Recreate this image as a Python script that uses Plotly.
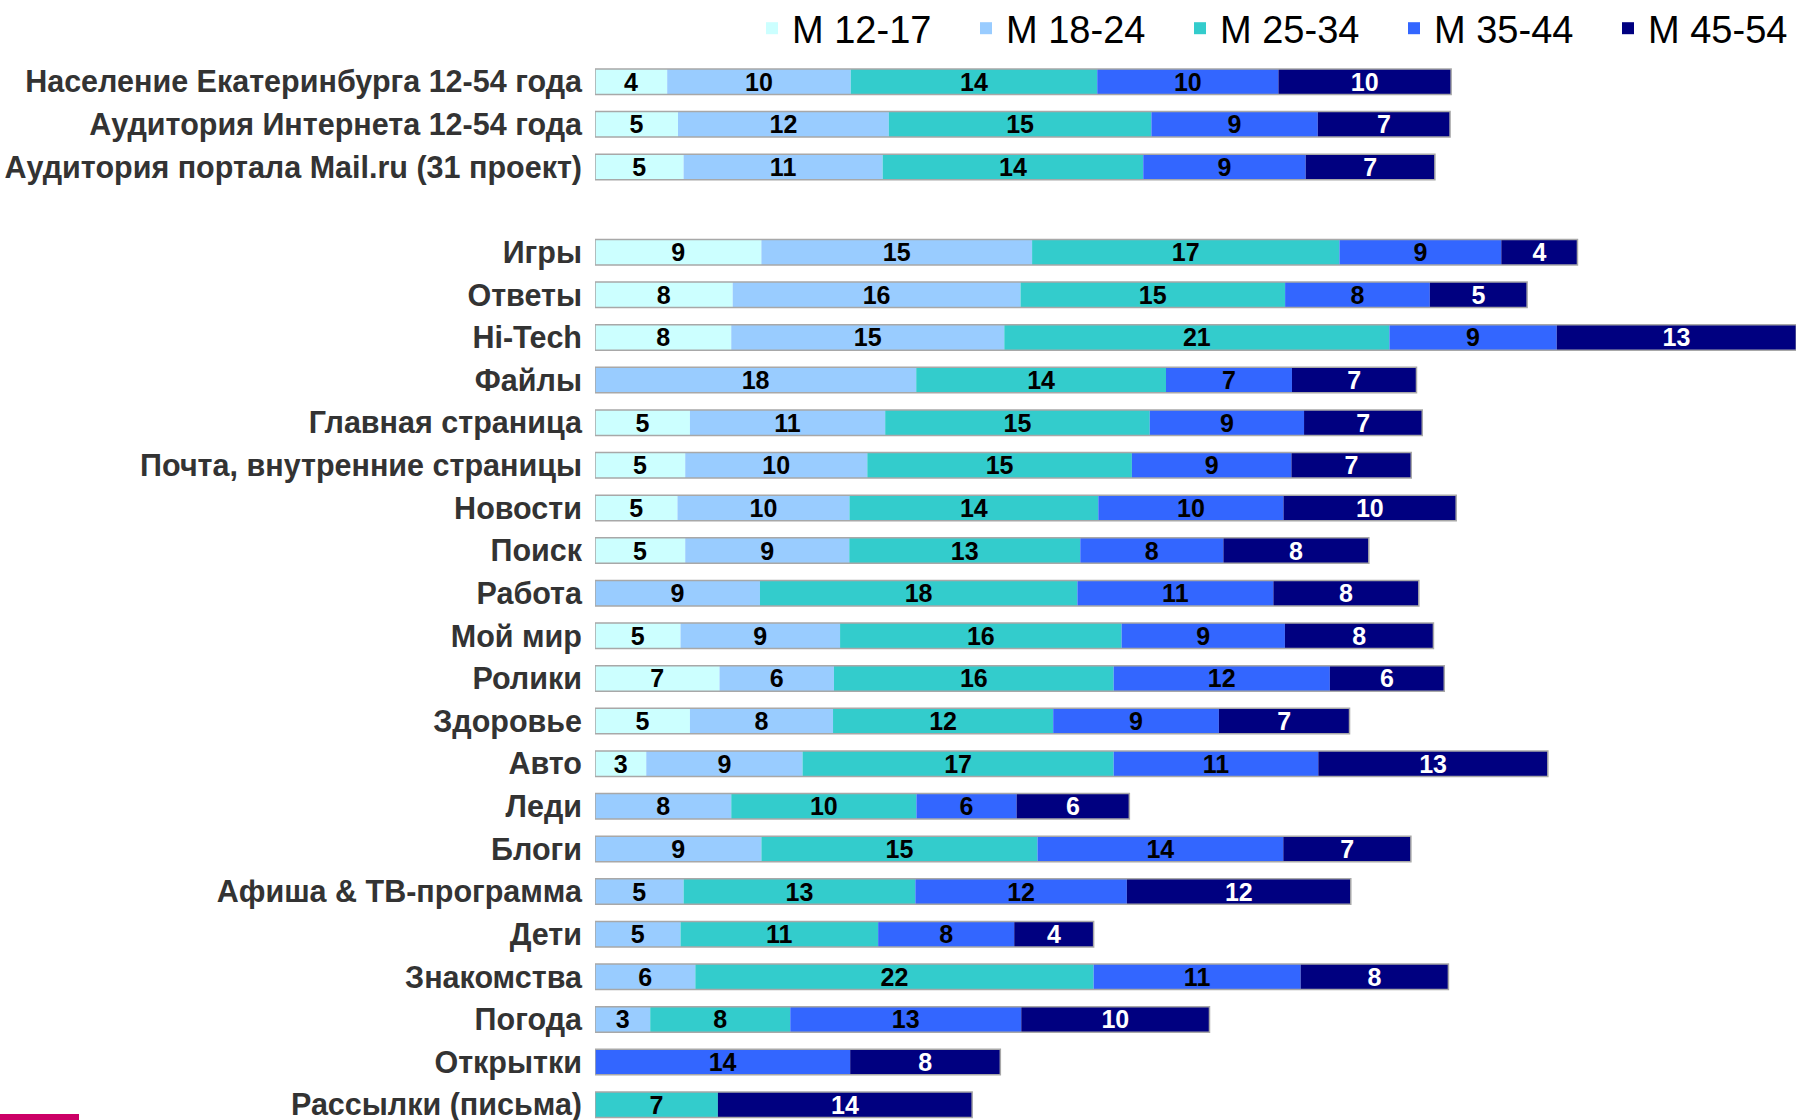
import numpy as np
import plotly.graph_objects as go

categories = [
    "Население Екатеринбурга 12-54 года",
    "Аудитория Интернета 12-54 года",
    "Аудитория портала Mail.ru (31 проект)",
    "Игры",
    "Ответы",
    "Hi-Tech",
    "Файлы",
    "Главная страница",
    "Почта, внутренние страницы",
    "Новости",
    "Поиск",
    "Работа",
    "Мой мир",
    "Ролики",
    "Здоровье",
    "Авто",
    "Леди",
    "Блоги",
    "Афиша & ТВ-программа",
    "Дети",
    "Знакомства",
    "Погода",
    "Открытки",
    "Рассылки (письма)",
]

series_names = ["М 12-17", "М 18-24", "М 25-34", "М 35-44", "М 45-54"]

m_12_17 = [4.0, 4.6, 4.91, 9.22, 7.63, 7.55, None, 5.26, 5.0, 4.57, 5.0, None,
           4.74, 6.9, 5.26, 2.84, None, None, None, None, None, None, None, None]
m_18_24 = [10.17, 11.68, 11.03, 15.0, 15.95, 15.13, 17.8, 10.82, 10.09, 9.53, 9.09, 9.14,
           8.84, 6.34, 7.93, 8.66, 7.55, 9.22, 4.91, 4.74, 5.56, 3.06, None, None]
m_25_34 = [13.66, 14.55, 14.44, 17.03, 14.66, 21.34, 13.84, 14.66, 14.66, 13.79, 12.8, 17.59,
           15.6, 15.5, 12.2, 17.24, 10.26, 15.3, 12.84, 10.95, 22.07, 7.76, None, 6.81]
m_35_44 = [10.04, 9.22, 9.0, 8.97, 8.02, 9.27, 6.98, 8.55, 8.84, 10.26, 7.93, 10.86,
           9.05, 11.98, 9.18, 11.34, 5.55, 13.62, 11.72, 7.54, 11.47, 12.8, 14.14, None]
m_45_54 = [9.57, 7.33, 7.16, 4.22, 5.39, 13.28, 6.9, 6.55, 6.64, 9.57, 8.06, 8.06,
           8.23, 6.34, 7.24, 12.72, 6.25, 7.07, 12.41, 4.4, 8.19, 10.43, 8.32, 14.09]

series_values = [m_12_17, m_18_24, m_25_34, m_35_44, m_45_54]
colors = ["#CCFFFF", "#99CCFF", "#33CCCC", "#3366FF", "#000080"]
text_colors = ["#000000", "#000000", "#000000", "#000000", "#FFFFFF"]

# spacer row between the summary rows and the projects
axis_order = categories[:3] + [" "] + categories[3:]

label_font = "Liberation Sans, Arial, sans-serif"

fig = go.Figure()
arr = np.array([[np.nan if v is None else v for v in s] for s in series_values], dtype=float)
cum = np.nancumsum(arr, axis=0)
bases = np.vstack([np.zeros(arr.shape[1]), cum[:-1]])

for i, name in enumerate(series_names):
    fig.add_trace(go.Bar(
        y=categories,
        x=series_values[i],
        base=list(bases[i]),
        orientation="h",
        name=name,
        marker=dict(color=colors[i], line=dict(width=0)),
        texttemplate="%{x:.0f}",
        textposition="inside",
        insidetextanchor="middle",
        textangle=0,
        textfont=dict(family=label_font, size=25, color=text_colors[i], weight="bold"),
        hoverinfo="name+x+y",
    ))

totals = np.nansum(arr, axis=0)
fig.add_trace(go.Bar(
    y=categories,
    x=list(totals),
    base=0,
    orientation="h",
    marker=dict(color="rgba(0,0,0,0)", line=dict(color="#a8a8a8", width=1.5)),
    showlegend=False,
    hoverinfo="skip",
))

W, H = 1797, 1120
ML, MR, MT, MB = 595, 1, 60, 0
pw = W - ML - MR
ph = H - MT - MB

fig.update_layout(
    width=W, height=H,
    autosize=False,
    barmode="overlay",
    bargap=0.4,
    plot_bgcolor="white",
    paper_bgcolor="white",
    margin=dict(l=ML, r=MR, t=MT, b=MB, autoexpand=False),
    showlegend=True,
    legend=dict(
        orientation="h",
        x=(752 - ML) / pw, xanchor="left", xref="paper",
        y=1.0, yanchor="bottom", yref="paper",
        font=dict(family=label_font, size=38, color="#000000"),
        entrywidth=169,
        traceorder="normal",
        bgcolor="rgba(0,0,0,0)",
    ),
    xaxis=dict(
        range=[0, 66.55],
        showgrid=False, zeroline=False, showticklabels=False, showline=False,
        fixedrange=True, automargin=False,
    ),
    yaxis=dict(
        type="category",
        categoryorder="array",
        categoryarray=axis_order,
        range=[24.359, -0.509],
        showgrid=False, zeroline=False, showline=False,
        ticks="",
        ticklabelstandoff=12,
        tickfont=dict(family=label_font, size=30.5, color="#333333", weight="bold"),
        fixedrange=True, automargin=False,
    ),
    shapes=[dict(
        type="rect", xref="paper", yref="paper",
        x0=(0 - ML) / pw, x1=(79 - ML) / pw,
        y0=0, y1=6 / ph,
        fillcolor="#CC0066", line=dict(width=0), layer="above",
    )],
    uniformtext=dict(minsize=25, mode="show"),
)

fig.write_html(
    "out.html",
    config={"displayModeBar": False},
    post_script="document.body.style.margin='0px';document.body.style.overflow='hidden';",
)
